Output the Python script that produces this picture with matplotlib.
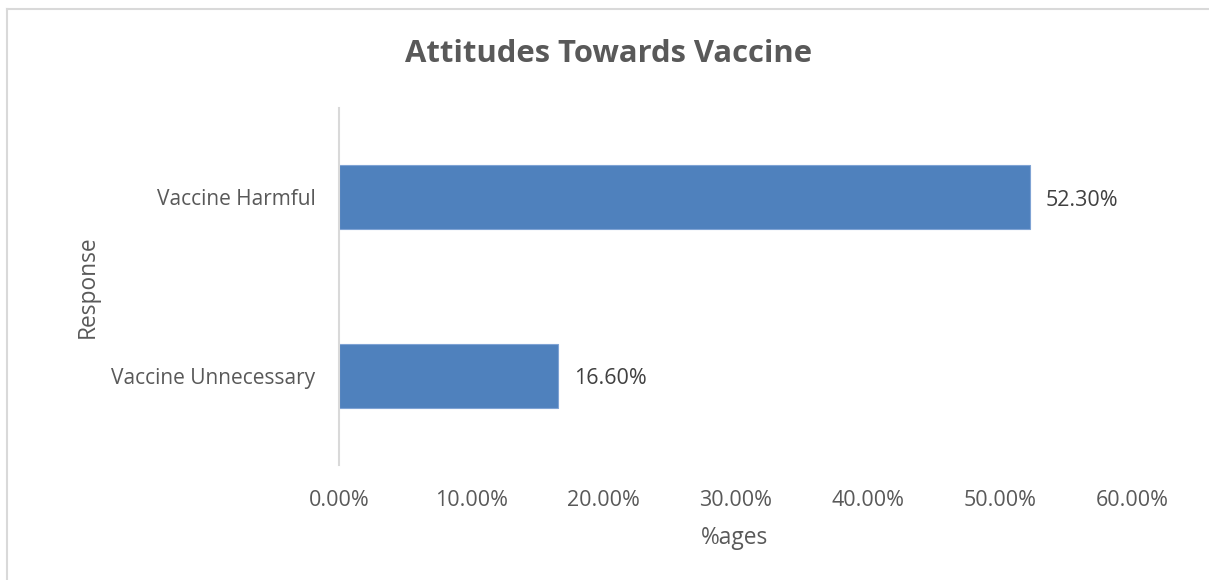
import matplotlib.pyplot as plt
from matplotlib.lines import Line2D

categories = ["Vaccine Unnecessary", "Vaccine Harmful"]
values = [16.6, 52.3]
ticks = [0, 10, 20, 30, 40, 50, 60]
tick_labels = ["0.00%", "10.00%", "20.00%", "30.00%", "40.00%", "50.00%", "60.00%"]

plt.rcParams['font.family'] = ['Open Sans', 'DejaVu Sans']
grey = '#595959'

fig = plt.figure(figsize=(12.09, 5.8), dpi=100)
ax = fig.add_axes([339 / 1209, 1 - 465 / 580, (1132 - 339) / 1209, (465 - 108) / 580])

ypos = list(range(len(categories)))
ax.barh(ypos, values, height=0.36, color='#4F81BD', edgecolor='#7FA3D4', linewidth=0.8)

for y, v in zip(ypos, values):
    ax.annotate("{:.2f}%".format(v), xy=(v, y), xytext=(11, -2), textcoords='offset points',
                ha='left', va='center', fontsize=15.5, color='#404040')

ax.set_xlim(0, 60)
ax.set_ylim(-0.5, 1.5)
ax.set_xticks(ticks)
ax.set_xticklabels(tick_labels, fontsize=15.5, color=grey)
ax.set_yticks(ypos)
ax.set_yticklabels(categories, fontsize=15, color=grey)
ax.tick_params(axis='x', length=0, pad=18)
ax.tick_params(axis='y', length=0, pad=17)

for s in ['top', 'right', 'bottom']:
    ax.spines[s].set_visible(False)
ax.spines['left'].set_color('#D9D9D9')
ax.spines['left'].set_linewidth(1.5)

fig.text(735 / 1209, 1 - 538 / 580, "%ages", ha='center', va='center', fontsize=16.4, color=grey)
fig.text(88 / 1209, 1 - 287 / 580, "Response", ha='center', va='center', rotation=90,
         fontsize=16.4, color=grey)
fig.text(609 / 1209, 1 - 54 / 580, "Attitudes Towards Vaccine", ha='center', va='center',
         fontsize=22.3, fontweight='bold', color=grey)

# chart border (only left and top edges show in the image)
fig.add_artist(Line2D([7 / 1209, 7 / 1209], [0, 1 - 9 / 580], transform=fig.transFigure,
                      color='#D9D9D9', linewidth=1.5))
fig.add_artist(Line2D([7 / 1209, 1], [1 - 9 / 580, 1 - 9 / 580], transform=fig.transFigure,
                      color='#D9D9D9', linewidth=1.5))

fig.savefig("out.png", dpi=100)
